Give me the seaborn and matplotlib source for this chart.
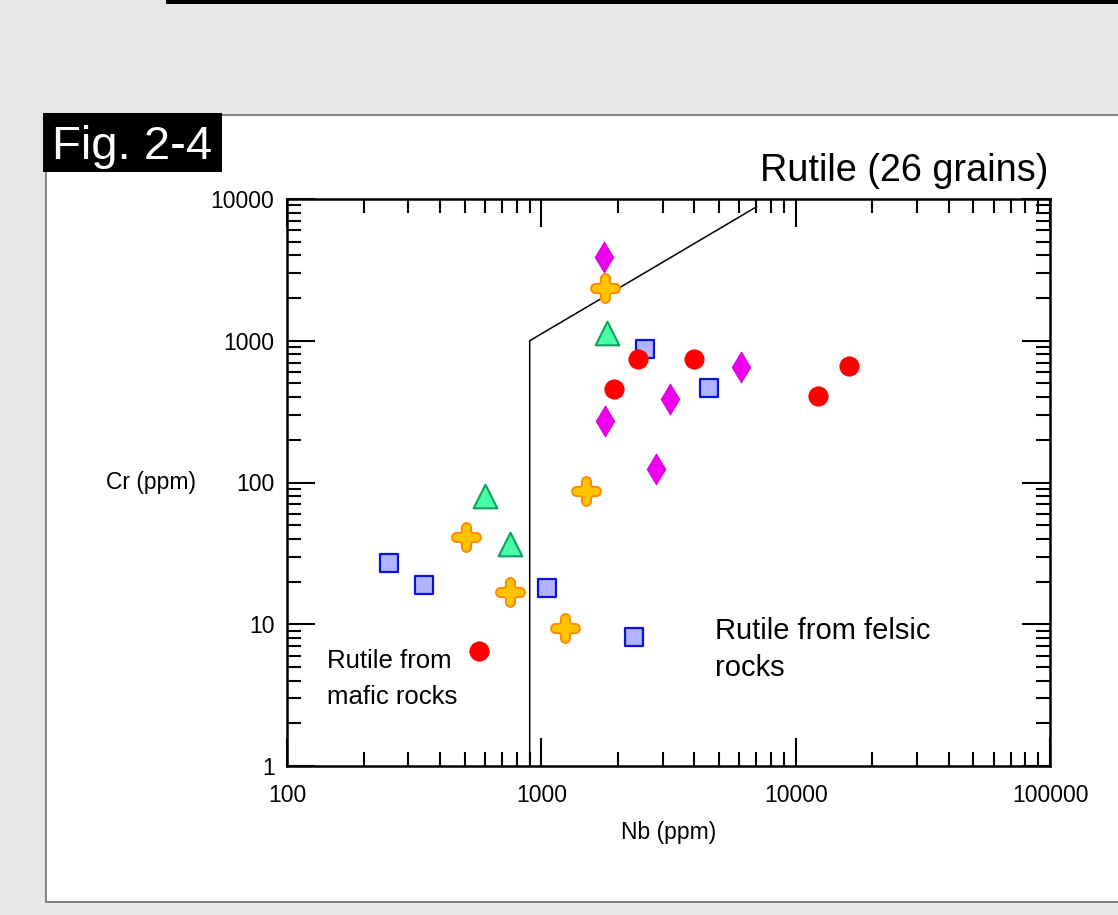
import numpy as np
import matplotlib
matplotlib.use("Agg")
import matplotlib.pyplot as plt
from matplotlib import ticker
from matplotlib.patches import Rectangle
from matplotlib.path import Path
import seaborn as sns

# Nb and Cr contents (ppm) of individual rutile grains, grouped by symbol
circle_nb = [569, 1931, 2399, 3981, 12250, 16220]
circle_cr = [6.5, 457, 743, 743, 407, 664]

diamond_nb = [1763, 1780, 3206, 2825, 6095]
diamond_cr = [3899, 272, 388, 124, 653]

cross_nb = [1780, 506, 753, 1500, 1239]
cross_cr = [2355, 41, 17, 87, 9.4]

triangle_nb = [1810, 601, 753]
triangle_cr = [1135, 80, 37]

square_nb = [252, 346, 1052, 2557, 4557, 2313]
square_cr = [27, 19, 18, 874, 464, 8.1]

# Field boundary between mafic and felsic sources
boundary_nb = [900, 900, 7030]
boundary_cr = [1, 1000, 8830]

x_ticks = [100, 1000, 10000, 100000]
y_ticks = [1, 10, 100, 1000, 10000]

sns.set_style("ticks")
plt.rcParams["font.family"] = ["Liberation Sans", "DejaVu Sans"]
plt.rcParams.update({"text.color": "black", "axes.labelcolor": "black",
                     "xtick.color": "black", "ytick.color": "black",
                     "xtick.labelcolor": "black", "ytick.labelcolor": "black"})

W, H = 1118, 915
fig = plt.figure(figsize=(W / 100, H / 100), dpi=100)
fig.patch.set_facecolor("#e6e6e6")


def fx(px):
    return px / W


def fy(py):
    return 1 - py / H


# page furniture: top rule, white panel, figure tag
fig.patches.append(Rectangle((fx(166), fy(4)), 1, fy(0) - fy(4), transform=fig.transFigure,
                             facecolor="black", edgecolor="none", zorder=-3))
fig.patches.append(Rectangle((fx(46), fy(902)), 1.0, fy(115) - fy(902), transform=fig.transFigure,
                             facecolor="white", edgecolor="#707070", linewidth=1.2, zorder=-2))
fig.patches.append(Rectangle((fx(43), fy(172)), fx(222) - fx(43), fy(113) - fy(172),
                             transform=fig.transFigure, facecolor="black", edgecolor="none", zorder=-1))
fig.text(fx(52), fy(159), "Fig. 2-4", color="white", fontsize=34, ha="left", va="baseline", zorder=2)
fig.text(fx(1048), fy(181), "Rutile (26 grains)", color="black", fontsize=27.3, ha="right", va="baseline")

ax = fig.add_axes([fx(287), fy(766), fx(1050) - fx(287), fy(199) - fy(766)])
ax.set_facecolor("white")


def cross_outline(w=0.32, fillet=0.14, n=10):
    """Plus sign with rounded arm ends and softened inner corners."""
    L = 1.0
    base = []
    # one quadrant: round tip of the right arm, then the fillet into the top arm
    tip = np.array([L - w, 0.0])
    for t in np.linspace(-0.5 * np.pi, 0.5 * np.pi, 2 * n):
        base.append(tip + w * np.array([np.cos(t), np.sin(t)]))
    c = np.array([w + fillet, w + fillet])
    for t in np.linspace(1.5 * np.pi, np.pi, n):
        base.append(c + fillet * np.array([np.cos(t), np.sin(t)]))
    base = np.array(base)
    verts = []
    for k in range(4):
        a = k * np.pi / 2
        rot = np.array([[np.cos(a), -np.sin(a)], [np.sin(a), np.cos(a)]])
        verts.extend(base @ rot.T)
    verts = np.vstack([verts, verts[:1]])
    codes = [Path.MOVETO] + [Path.LINETO] * (len(verts) - 2) + [Path.CLOSEPOLY]
    return Path(verts, codes)


sns.scatterplot(x=square_nb, y=square_cr, marker="s", s=180, color="#b0b3ff",
                edgecolor="#0a14d2", linewidth=1.6, ax=ax, zorder=3)
sns.scatterplot(x=triangle_nb, y=triangle_cr, marker="^", s=290, color="#48ffa8",
                edgecolor="#0fa25f", linewidth=1.5, ax=ax, zorder=3)
sns.scatterplot(x=cross_nb, y=cross_cr, marker=cross_outline(), s=430, color="#ffc300",
                edgecolor="#ff8a00", linewidth=1.4, ax=ax, zorder=3)
sns.scatterplot(x=diamond_nb, y=diamond_cr, marker="d", s=250, color="#ee00ee",
                edgecolor="#d400d4", linewidth=0.6, ax=ax, zorder=3)
sns.scatterplot(x=circle_nb, y=circle_cr, marker="o", s=195, color="#ff0000",
                edgecolor="#f00000", linewidth=0.5, ax=ax, zorder=4)

ax.plot(boundary_nb, boundary_cr, color="black", linewidth=1.1, zorder=2)

ax.set_xscale("log")
ax.set_yscale("log")
ax.set_xlim(x_ticks[0], x_ticks[-1])
ax.set_ylim(y_ticks[0], y_ticks[-1])
ax.set_xticks(x_ticks)
ax.set_yticks(y_ticks)
fmt = ticker.FuncFormatter(lambda v, _: f"{int(round(v))}")
ax.xaxis.set_major_formatter(fmt)
ax.yaxis.set_major_formatter(fmt)
ax.xaxis.set_minor_locator(ticker.LogLocator(base=10, subs=np.arange(2, 10)))
ax.yaxis.set_minor_locator(ticker.LogLocator(base=10, subs=np.arange(2, 10)))
ax.xaxis.set_minor_formatter(ticker.NullFormatter())
ax.yaxis.set_minor_formatter(ticker.NullFormatter())

ax.tick_params(which="both", direction="in", top=True, right=True, width=1.5,
               color="black", labelcolor="black", labelsize=16.5)
ax.tick_params(which="major", length=20)
ax.tick_params(which="minor", length=10)
ax.tick_params(axis="y", which="major", pad=9)
ax.tick_params(axis="x", which="major", pad=13)
for side in ax.spines.values():
    side.set_linewidth(1.8)
    side.set_color("black")

ax.set_xlabel("Nb (ppm)", fontsize=16.5, labelpad=10, color="black")
ax.set_ylabel("Cr (ppm)", fontsize=16.5, rotation=0, ha="right", va="center", color="black")
ax.yaxis.set_label_coords(-0.119, 0.5)

ax.text(143, 4.1, "Rutile from\nmafic rocks", fontsize=18.5, ha="left", va="center",
        linespacing=1.6, color="black")
ax.text(4820, 6.6, "Rutile from felsic\nrocks", fontsize=21, ha="left", va="center",
        linespacing=1.42, color="black")

fig.savefig("out.png", dpi=100, facecolor=fig.get_facecolor())
